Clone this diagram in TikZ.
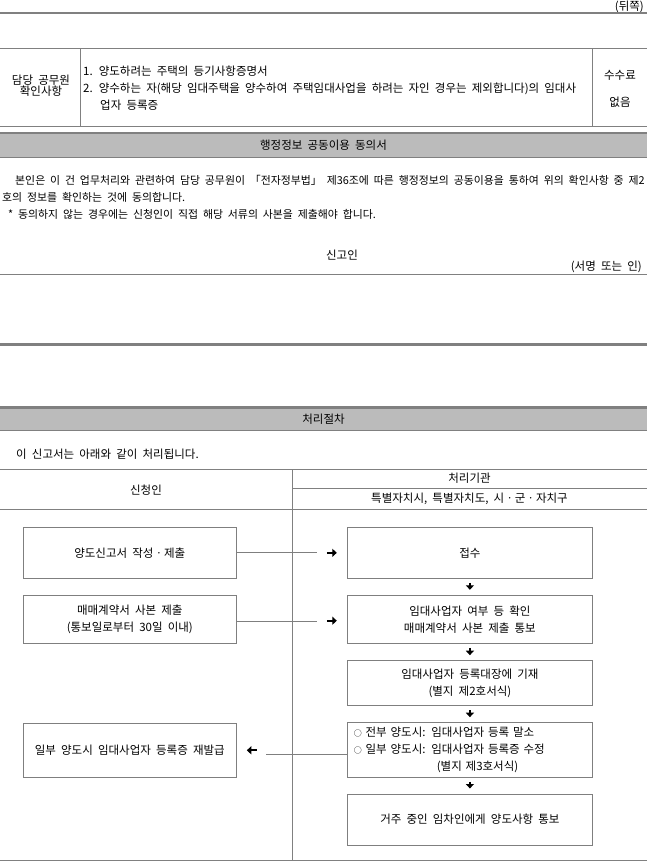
\documentclass[tikz,border=0pt]{standalone}
\usepackage{fontspec}
\setmainfont{Noto Sans CJK KR}[WordSpace=2]
\usetikzlibrary{arrows.meta,positioning}
\definecolor{Ink}{HTML}{000000}
\definecolor{Rule}{HTML}{808080}
\definecolor{Band}{HTML}{BBBBBB}
\definecolor{Frame}{HTML}{7F7F7F}
\tikzset{
 every node/.style={font=\fontsize{11.5}{17}\selectfont,text=Ink,inner sep=0pt},
 hair/.style={draw=Rule,line width=1pt},
 heavy/.style={draw=Rule,line width=2.6pt},
 box/.style={draw=Frame,line width=1pt,align=center},
 lbox/.style={box,minimum width=213pt},
 rbox/.style={box,minimum width=245.2pt},
 link/.style={draw=Frame,line width=1pt},
 dirarr/.style={-{Triangle[length=4.5pt,width=8pt]},line width=1.7pt,draw=Ink},
}

\begin{document}
\begin{tikzpicture}[x=1pt,y=-1pt]
 \useasboundingbox (0,0) rectangle (647,862);
 % top part
 \node[anchor=east] (back) at (644,6.5) {(뒤쪽)};
 \draw[heavy] (0,13.1) -- (647,13.1);
 \draw[hair] (0,48.5) -- (647,48.5) (0,126) -- (647,126);
 \draw[hair] (80,48.5) -- (80,126) (592.5,48.5) -- (592.5,126);
 \node[align=center,font=\fontsize{11.5}{11}\selectfont] (chkhead) at (41,86) {담당 공무원\\확인사항};
 \node[anchor=west,align=left] (chkitems) at (83,88) {1. 양도하려는 주택의 등기사항증명서\\2. 양수하는 자(해당 임대주택을 양수하여 주택임대사업을 하려는 자인 경우는 제외합니다)의 임대사\\\hspace*{17pt}업자 등록증};
 \node[align=center,font=\fontsize{11.5}{27}\selectfont] (fee) at (620,88.5) {수수료\\없음};
 % consent
 \fill[Band] (0,134.3) rectangle (647,157);
 \draw[heavy] (0,133) -- (647,133);
 \draw[hair] (0,157) -- (647,157);
 \node (consenthead) at (323.5,145) {행정정보 공동이용 동의서};
 \node[anchor=west,align=left,font=\fontsize{10.9}{17}\selectfont] (consent) at (2,197) {\hspace*{13pt}본인은 이 건 업무처리와 관련하여 담당 공무원이 「전자정부법」 제36조에 따른 행정정보의 공동이용을 통하여 위의 확인사항 중 제2\\호의 정보를 확인하는 것에 동의합니다.\\\hspace*{6pt}* 동의하지 않는 경우에는 신청인이 직접 해당 서류의 사본을 제출해야 합니다.};
 \node (declarant) at (342,255) {신고인};
 \node[anchor=east] (signnote) at (642,267) {(서명 또는 인)};
 \draw[hair] (0,274) -- (647,274);
 \draw[heavy] (0,344.7) -- (647,344.7);
 % procedure
 \fill[Band] (0,408.7) rectangle (647,430);
 \draw[heavy] (0,407.3) -- (647,407.3);
 \draw[hair] (0,430) -- (647,430);
 \node (prochead) at (323.5,419) {처리절차};
 \node[anchor=west] (procnote) at (16,454) {이 신고서는 아래와 같이 처리됩니다.};
 \draw[hair] (0,469) -- (647,469) (292.3,488.3) -- (647,488.3) (0,509.3) -- (647,509.3) (0,860.7) -- (647,860.7);
 \draw[hair] (292.3,469) -- (292.3,860.7);
 \node (applicant) at (146,490) {신청인};
 \node (agency) at (469.5,478.5) {처리기관};
 \node (agencyunit) at (469.5,499) {특별자치시, 특별자치도, 시ㆍ군ㆍ자치구};
 % boxes
 \node[lbox,minimum height=51pt] (req1) at (129.8,552.8) {양도신고서 작성ㆍ제출};
 \node[lbox,minimum height=48pt] (req2) at (129.8,619.3) {매매계약서 사본 제출\\(통보일로부터 30일 이내)};
 \node[lbox,minimum height=54pt] (req3) at (129.8,750.3) {일부 양도시 임대사업자 등록증 재발급};
 \node[rbox,minimum height=51pt] (proc1) at (469.9,552.8) {접수};
 \node[rbox,minimum height=48pt] (proc2) at (469.9,619.3) {임대사업자 여부 등 확인\\매매계약서 사본 제출 통보};
 \node[rbox,minimum height=45pt] (proc3) at (469.9,683.2) {임대사업자 등록대장에 기재\\(별지 제2호서식)};
 \node[box,minimum height=54.6pt,align=left,text width=232.2pt,inner xsep=6.5pt] (proc4) at (469.9,750)
  {{\fontsize{8}{8}\selectfont ○} 전부 양도시: 임대사업자 등록 말소\\{\fontsize{8}{8}\selectfont ○} 일부 양도시: 임대사업자 등록증 수정\\\hspace*{83pt}(별지 제3호서식)};
 \node[rbox,minimum height=51pt] (proc5) at (469.9,819.5) {거주 중인 임차인에게 양도사항 통보};
 % connectors
 \draw[link] (req1.east) -- ++(80.4,0);
 \draw[link] ([yshift=-1.7pt]req2.east) -- ++(80.4,0);
 \draw[link] ([yshift=-4pt]proc4.west) -- ++(-81.3,0);
 \draw[dirarr] ([xshift=-20pt]proc1.west) -- ([xshift=-10pt]proc1.west);
 \draw[dirarr] ([xshift=-20pt,yshift=-1.4pt]proc2.west) -- ([xshift=-10pt,yshift=-1.4pt]proc2.west);
 \draw[dirarr] ([xshift=20pt]req3.east) -- ([xshift=10pt]req3.east);
 \draw[dirarr] ([yshift=-4pt]proc1.south) -- ([yshift=5pt]proc2.north);
 \draw[dirarr] ([yshift=-4pt]proc2.south) -- ([yshift=5pt]proc3.north);
 \draw[dirarr] ([yshift=-4pt]proc3.south) -- ([yshift=5pt]proc4.north);
 \draw[dirarr] ([yshift=-4pt]proc4.south) -- ([yshift=5pt]proc5.north);
\end{tikzpicture}
\end{document}
